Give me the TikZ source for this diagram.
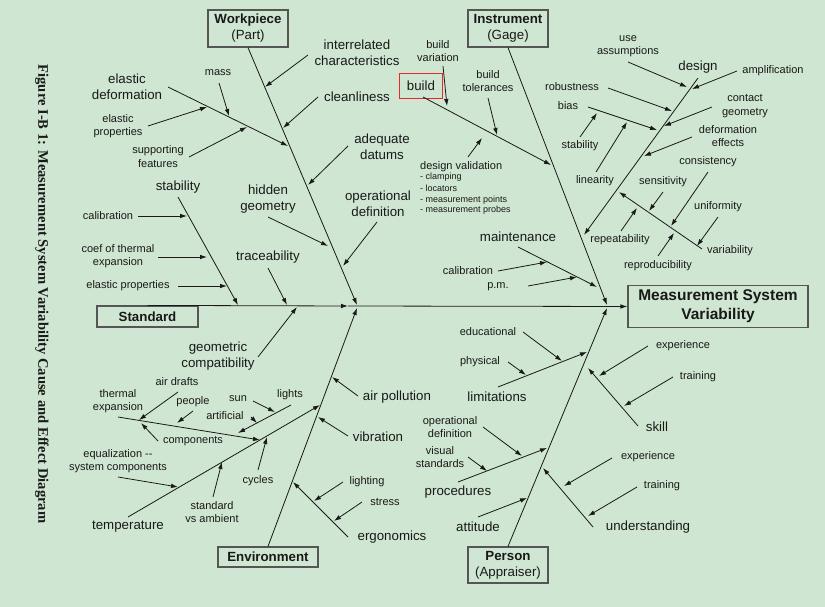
\documentclass[tikz,border=0pt]{standalone}
\usepackage{fontspec}
\setmainfont{Liberation Sans}
\newfontfamily\titlefont{Liberation Serif}
\usetikzlibrary{arrows.meta}
\definecolor{bgcol}{RGB}{207,230,210}
\definecolor{txtcol}{RGB}{25,25,25}
\definecolor{boxcol}{RGB}{85,85,85}
\definecolor{redbox}{RGB}{230,40,40}
\tikzset{
  big/.style={font=\fontsize{13.3}{15.8}\selectfont, align=center, inner sep=0pt, text=txtcol},
  small/.style={font=\fontsize{11}{13.3}\selectfont, align=center, inner sep=0pt, text=txtcol},
  tinytxt/.style={font=\fontsize{9}{10.9}\selectfont, inner sep=0pt, text=txtcol, anchor=base west},
  catbox/.style={draw=boxcol, line width=1.2pt, align=center, inner sep=0pt, text=txtcol, font=\fontsize{13.3}{16}\selectfont},
  arr/.style={-{Latex[length=7pt,width=4.6pt]}, line width=0.8pt, draw=txtcol},
}
\begin{document}
\begin{tikzpicture}[x=1pt,y=-1pt]
\useasboundingbox (0,0) rectangle (825,607);
\fill[bgcol] (0,0) rectangle (825,607);

% title
\node[rotate=-90, font=\titlefont\bfseries\fontsize{14.6}{16}\selectfont, inner sep=0pt, text=txtcol] (title) at (42,294) {Figure I-B 1: Measurement System Variability Cause and Effect Diagram};

% category boxes
\node[catbox, minimum width=80, minimum height=37] (wp) at (248,28.5) {\textbf{Workpiece}\\(Part)};
\node[catbox, minimum width=80, minimum height=37] (inst) at (508,28.5) {\textbf{Instrument}\\(Gage)};
\node[catbox, minimum width=101, minimum height=21] (std) at (147.5,316.5) {\textbf{Standard}};
\node[catbox, minimum width=100, minimum height=20] (env) at (268,557) {\textbf{Environment}};
\node[catbox, minimum width=80, minimum height=36] (pers) at (508,565) {\textbf{Person}\\(Appraiser)};
\node[catbox, minimum width=180, minimum height=42, font=\bfseries\fontsize{15.5}{19}\selectfont] (msv) at (718,306.5) {Measurement System\\Variability};

% junctions
\coordinate (j1) at (357,305); \coordinate (j2) at (607,305);
\coordinate (j3) at (357,308); \coordinate (j4) at (607,308);
\coordinate (sj) at (348,306);

% spine and main bones
\draw[arr] (std.north) -- (sj);
\draw[arr] (sj) -- (msv.west);
\draw[arr] (wp.south) -- (j1);
\draw[arr] (inst.south) -- (j2);
\draw[arr] (env.north) -- (j3);
\draw[arr] (pers.north) -- (j4);

% ---------- Workpiece labels
\node[big] (ic) at (357,53) {interrelated\\characteristics};
\node[big] (cl) at (357,96.5) {cleanliness};
\node[big] (ad) at (382,146.5) {adequate\\datums};
\node[big] (od) at (378,203.5) {operational\\definition};
\node[big] (hg) at (268,199) {hidden\\geometry};
\node[big] (ed) at (127,87) {elastic\\deformation};
\node[small] (mass) at (218,73) {mass};
\node[small] (ep1) at (118,126) {elastic\\properties};
\node[small] (sf) at (158,156.5) {supporting\\features};

\coordinate (ic-s) at (308,55);  \coordinate (ic-e) at (265,87);
\coordinate (cl-s) at (318,97);  \coordinate (cl-e) at (283,128);
\coordinate (ad-s) at (348,146); \coordinate (ad-e) at (308,185);
\coordinate (od-s) at (377,222); \coordinate (od-e) at (343,266);
\coordinate (ed-s) at (168,87);  \coordinate (ed-e) at (288,146);
\coordinate (ms-s) at (219,83);  \coordinate (ms-e) at (229,116);
\coordinate (ep1-s) at (148,126); \coordinate (ep1-e) at (207,107);
\coordinate (sf-s) at (189,157); \coordinate (sf-e) at (247,127);
\coordinate (hg-s) at (268,217); \coordinate (hg-e) at (328,246);
\draw[arr] (ic-s) -- (ic-e);
\draw[arr] (cl-s) -- (cl-e);
\draw[arr] (ad-s) -- (ad-e);
\draw[arr] (od-s) -- (od-e);
\draw[arr] (ed-s) -- (ed-e);
\draw[arr] (ms-s) -- (ms-e);
\draw[arr] (ep1-s) -- (ep1-e);
\draw[arr] (sf-s) -- (sf-e);
\draw[arr] (hg-s) -- (hg-e);

% ---------- Standard labels
\node[big] (stab) at (178,187) {stability};
\node[small] (cal1) at (108,216) {calibration};
\node[small] (coef) at (118,256) {coef of thermal\\expansion};
\node[small] (ep2) at (128,286) {elastic properties};
\node[big] (trace) at (268,257) {traceability};
\node[big] (gc) at (218,356) {geometric\\compatibility};

\coordinate (st-s) at (178,197); \coordinate (st-e) at (238,305);
\coordinate (c1-s) at (138,216); \coordinate (c1-e) at (187,216);
\coordinate (cf-s) at (158,257); \coordinate (cf-e) at (207,257);
\coordinate (ep2-s) at (178,286); \coordinate (ep2-e) at (227,286);
\coordinate (tr-s) at (268,268); \coordinate (tr-e) at (287,305);
\coordinate (gc-s) at (258,357); \coordinate (gc-e) at (297,307);
\draw[arr] (st-s) -- (st-e);
\draw[arr] (c1-s) -- (c1-e);
\draw[arr] (cf-s) -- (cf-e);
\draw[arr] (ep2-s) -- (ep2-e);
\draw[arr] (tr-s) -- (tr-e);
\draw[arr] (gc-s) -- (gc-e);

% ---------- Environment labels
\node[big] (ap) at (397,397) {air pollution};
\node[big] (vib) at (378,437) {vibration};
\node[big] (ergo) at (392,537) {ergonomics};
\node[small] (lig) at (367,482) {lighting};
\node[small] (str) at (385,502) {stress};
\node[big] (temp) at (128,527) {temperature};
\node[small] (eq) at (118,461) {equalization -{}-\\system components};
\node[small] (sva) at (212,512) {standard\\vs ambient};
\node[small] (cyc) at (258,481) {cycles};
\node[small] (te) at (118,401) {thermal\\expansion};
\node[small] (adr) at (177,382) {air drafts};
\node[small] (ppl) at (193,402) {people};
\node[small] (comp) at (193,441) {components};
\node[small] (lts) at (290,395) {lights};
\node[small] (sun) at (238,399) {sun};
\node[small] (art) at (225,416) {artificial};

\coordinate (ap-s) at (358,396); \coordinate (ap-e) at (332,377);
\coordinate (vb-s) at (348,436); \coordinate (vb-e) at (318,417);
\coordinate (eg-s) at (348,537); \coordinate (eg-e) at (293,482);
\coordinate (lg-s) at (343,482); \coordinate (lg-e) at (314,501);
\coordinate (sr-s) at (362,502); \coordinate (sr-e) at (334,521);
\coordinate (tp-s) at (128,517); \coordinate (tp-e) at (320,405);
\coordinate (eq-s) at (118,477); \coordinate (eq-e) at (178,487);
\coordinate (sv-s) at (213,497); \coordinate (sv-e) at (222,462);
\coordinate (cy-s) at (258,470); \coordinate (cy-e) at (267,437);
\coordinate (te-s) at (118,417); \coordinate (te-e) at (260,440);
\coordinate (ar-s) at (178,392); \coordinate (ar-e) at (139,420);
\coordinate (pp-s) at (193,411); \coordinate (pp-e) at (177,423);
\coordinate (cp-s) at (158,441); \coordinate (cp-e) at (141,423);
\coordinate (lt-s) at (291,405); \coordinate (lt-e) at (238,433);
\coordinate (sn-s) at (253,401); \coordinate (sn-e) at (275,412);
\coordinate (af-s) at (251,417); \coordinate (af-e) at (257,423);
\draw[arr] (ap-s) -- (ap-e);
\draw[arr] (vb-s) -- (vb-e);
\draw[arr] (eg-s) -- (eg-e);
\draw[arr] (lg-s) -- (lg-e);
\draw[arr] (sr-s) -- (sr-e);
\draw[arr] (tp-s) -- (tp-e);
\draw[arr] (eq-s) -- (eq-e);
\draw[arr] (sv-s) -- (sv-e);
\draw[arr] (cy-s) -- (cy-e);
\draw[arr] (te-s) -- (te-e);
\draw[arr] (ar-s) -- (ar-e);
\draw[arr] (pp-s) -- (pp-e);
\draw[arr] (cp-s) -- (cp-e);
\draw[arr] (lt-s) -- (lt-e);
\draw[arr] (sn-s) -- (sn-e);
\draw[arr] (af-s) -- (af-e);

% ---------- Instrument labels
\node[big, draw=redbox, line width=0.7pt, minimum width=43, minimum height=25] (build) at (421,86) {build};
\node[small] (bv) at (438,51) {build\\variation};
\node[small] (bt) at (488,81) {build\\tolerances};
\node[small, anchor=base west] (dv) at (420,169.7) {design validation};
\node[tinytxt] (dv1) at (420,179.9) {- clamping};
\node[tinytxt] (dv2) at (420,191.3) {- locators};
\node[tinytxt] (dv3) at (420,202.4) {- measurement points};
\node[tinytxt] (dv4) at (420,212.5) {- measurement probes};
\node[big] (mt) at (518,237) {maintenance};
\node[small] (cal2) at (468,271) {calibration};
\node[small] (pm) at (498,287) {p.m.};
\node[big] (dsg) at (698,67) {design};
\node[small] (amp) at (773,71) {amplification};
\node[small] (ua) at (628,46) {use\\assumptions};
\node[small] (rob) at (572,87) {robustness};
\node[small] (cg) at (745,106) {contact\\geometry};
\node[small] (de) at (728,136) {deformation\\effects};
\node[small] (bias) at (568,106) {bias};
\node[small] (stab2) at (580,146) {stability};
\node[small] (lin) at (595,181) {linearity};
\node[small] (var) at (730,251) {variability};
\node[small] (sens) at (663,182) {sensitivity};
\node[small] (rep) at (620,240) {repeatability};
\node[small] (cons) at (708,162) {consistency};
\node[small] (repro) at (658,266) {reproducibility};
\node[small] (unif) at (718,207) {uniformity};

\coordinate (bd-s) at (423,97);  \coordinate (bd-e) at (551,165);
\coordinate (bv-s) at (443,66);  \coordinate (bv-e) at (447,106);
\coordinate (bt-s) at (488,98);  \coordinate (bt-e) at (497,135);
\coordinate (dv-s) at (468,157); \coordinate (dv-e) at (482,138);
\coordinate (mt-s) at (518,247); \coordinate (mt-e) at (597,287);
\coordinate (c2-s) at (498,271); \coordinate (c2-e) at (547,262);
\coordinate (pm-s) at (528,286); \coordinate (pm-e) at (577,277);
\coordinate (dg-s) at (698,78);  \coordinate (dg-e) at (584,235);
\coordinate (am-s) at (737,71);  \coordinate (am-e) at (692,89);
\coordinate (ua-s) at (628,62);  \coordinate (ua-e) at (687,87);
\coordinate (rb-s) at (608,88);  \coordinate (rb-e) at (672,111);
\coordinate (cg-s) at (712,107); \coordinate (cg-e) at (664,126);
\coordinate (de-s) at (692,137); \coordinate (de-e) at (644,156);
\coordinate (bi-s) at (588,107); \coordinate (bi-e) at (657,130);
\coordinate (s2-s) at (580,137); \coordinate (s2-e) at (597,113);
\coordinate (ln-s) at (596,172); \coordinate (ln-e) at (627,122);
\coordinate (va-s) at (702,249); \coordinate (va-e) at (619,192);
\coordinate (se-s) at (663,192); \coordinate (se-e) at (649,211);
\coordinate (rp-s) at (621,231); \coordinate (rp-e) at (637,208);
\coordinate (cs-s) at (708,172); \coordinate (cs-e) at (671,226);
\coordinate (ro-s) at (658,256); \coordinate (ro-e) at (674,233);
\coordinate (un-s) at (718,217); \coordinate (un-e) at (697,246);
\draw[arr] (bd-s) -- (bd-e);
\draw[arr] (bv-s) -- (bv-e);
\draw[arr] (bt-s) -- (bt-e);
\draw[arr] (dv-s) -- (dv-e);
\draw[arr] (mt-s) -- (mt-e);
\draw[arr] (c2-s) -- (c2-e);
\draw[arr] (pm-s) -- (pm-e);
\draw[arr] (dg-s) -- (dg-e);
\draw[arr] (am-s) -- (am-e);
\draw[arr] (ua-s) -- (ua-e);
\draw[arr] (rb-s) -- (rb-e);
\draw[arr] (cg-s) -- (cg-e);
\draw[arr] (de-s) -- (de-e);
\draw[arr] (bi-s) -- (bi-e);
\draw[arr] (s2-s) -- (s2-e);
\draw[arr] (ln-s) -- (ln-e);
\draw[arr] (va-s) -- (va-e);
\draw[arr] (se-s) -- (se-e);
\draw[arr] (rp-s) -- (rp-e);
\draw[arr] (cs-s) -- (cs-e);
\draw[arr] (ro-s) -- (ro-e);
\draw[arr] (un-s) -- (un-e);

% ---------- Person labels
\node[big] (lim) at (497,397) {limitations};
\node[small] (edu) at (488,332) {educational};
\node[small] (phys) at (480,362) {physical};
\node[big] (proc) at (458,492) {procedures};
\node[small] (opd) at (450,427) {operational\\definition};
\node[small] (vis) at (440,457) {visual\\standards};
\node[big] (att) at (478,527) {attitude};
\node[big] (skill) at (657,427) {skill};
\node[small] (exp1) at (683,346) {experience};
\node[small] (tr1) at (698,377) {training};
\node[big] (und) at (648,527) {understanding};
\node[small] (exp2) at (648,457) {experience};
\node[small] (tr2) at (662,486) {training};

\coordinate (lm-s) at (498,387); \coordinate (lm-e) at (587,352);
\coordinate (ed2-s) at (523,332); \coordinate (ed2-e) at (562,361);
\coordinate (ph-s) at (508,362); \coordinate (ph-e) at (526,375);
\coordinate (pr-s) at (458,482); \coordinate (pr-e) at (547,448);
\coordinate (od2-s) at (483,427); \coordinate (od2-e) at (522,456);
\coordinate (vs-s) at (468,457); \coordinate (vs-e) at (487,471);
\coordinate (at-s) at (478,517); \coordinate (at-e) at (527,498);
\coordinate (sk-s) at (638,426); \coordinate (sk-e) at (588,368);
\coordinate (x1-s) at (648,346); \coordinate (x1-e) at (599,376);
\coordinate (t1-s) at (673,377); \coordinate (t1-e) at (624,406);
\coordinate (ud-s) at (593,527); \coordinate (ud-e) at (543,468);
\coordinate (x2-s) at (612,458); \coordinate (x2-e) at (564,486);
\coordinate (t2-s) at (637,487); \coordinate (t2-e) at (588,516);
\draw[arr] (lm-s) -- (lm-e);
\draw[arr] (ed2-s) -- (ed2-e);
\draw[arr] (ph-s) -- (ph-e);
\draw[arr] (pr-s) -- (pr-e);
\draw[arr] (od2-s) -- (od2-e);
\draw[arr] (vs-s) -- (vs-e);
\draw[arr] (at-s) -- (at-e);
\draw[arr] (sk-s) -- (sk-e);
\draw[arr] (x1-s) -- (x1-e);
\draw[arr] (t1-s) -- (t1-e);
\draw[arr] (ud-s) -- (ud-e);
\draw[arr] (x2-s) -- (x2-e);
\draw[arr] (t2-s) -- (t2-e);
\end{tikzpicture}
\end{document}
